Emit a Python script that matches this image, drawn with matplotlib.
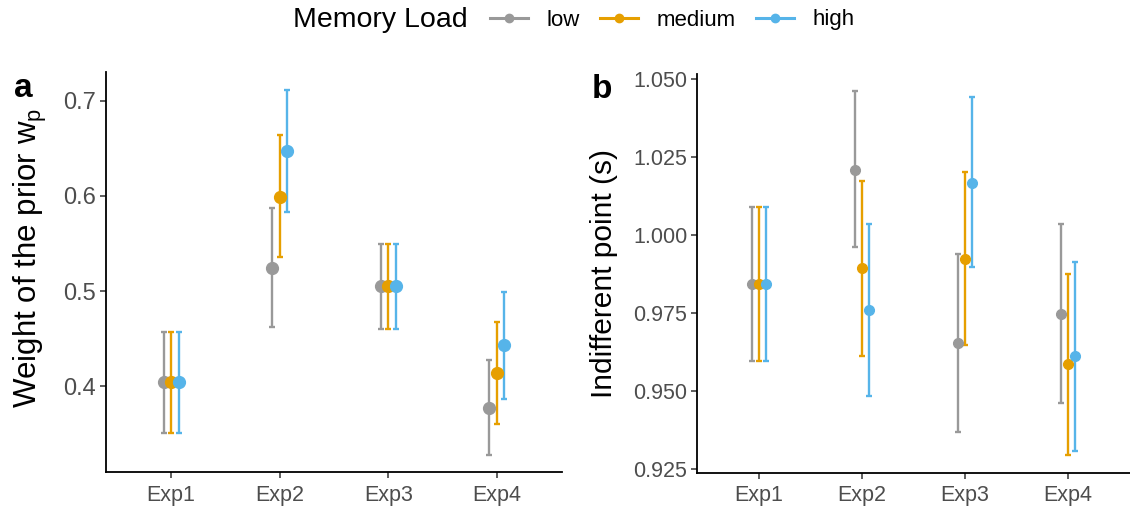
import matplotlib.pyplot as plt
from matplotlib.lines import Line2D
import numpy as np

plt.rcParams['font.family'] = ['Liberation Sans', 'DejaVu Sans']

experiments = ["Exp1", "Exp2", "Exp3", "Exp4"]
loads = ["low", "medium", "high"]
colors = {"low": "#999999", "medium": "#E69F00", "high": "#56B4E9"}

# panel a: weight of the prior (mean, lower, upper)
wp_mean = {"low": [0.404, 0.524, 0.505, 0.377],
           "medium": [0.404, 0.599, 0.505, 0.414],
           "high": [0.404, 0.647, 0.505, 0.443]}
wp_low = {"low": [0.351, 0.462, 0.460, 0.327],
          "medium": [0.351, 0.536, 0.460, 0.360],
          "high": [0.351, 0.583, 0.460, 0.386]}
wp_high = {"low": [0.457, 0.587, 0.549, 0.427],
           "medium": [0.457, 0.664, 0.549, 0.467],
           "high": [0.457, 0.712, 0.549, 0.499]}

# panel b: indifferent point (s)
ip_mean = {"low": [0.9843, 1.0209, 0.9653, 0.9748],
           "medium": [0.9843, 0.9893, 0.9922, 0.9587],
           "high": [0.9843, 0.9760, 1.0166, 0.9612]}
ip_low = {"low": [0.9595, 0.9960, 0.9370, 0.9462],
          "medium": [0.9595, 0.9614, 0.9648, 0.9297],
          "high": [0.9595, 0.9486, 0.9896, 0.9307]}
ip_high = {"low": [1.0090, 1.0460, 0.9940, 1.0036],
           "medium": [1.0090, 1.0172, 1.0200, 0.9876],
           "high": [1.0090, 1.0036, 1.0440, 0.9914]}

fig = plt.figure(figsize=(11.3, 5.09), dpi=100)
ax_a = fig.add_axes([106 / 1130, 37 / 509, 456 / 1130, 400 / 509])
ax_b = fig.add_axes([697 / 1130, 36.3 / 509, 433 / 1130, 398.7 / 509])

x = np.arange(len(experiments))
offsets = {"low": -0.07, "medium": 0.0, "high": 0.07}


def draw(ax, mean, lo, hi, ms):
    for ld in loads:
        m = np.array(mean[ld])
        err = [m - np.array(lo[ld]), np.array(hi[ld]) - m]
        ax.errorbar(x + offsets[ld], m, yerr=err, fmt='o', color=colors[ld],
                    ms=ms, elinewidth=1.7, capsize=2.2, capthick=1.7, zorder=3)
    ax.set_xlim(-0.6, 3.6)
    ax.set_xticks(x)
    ax.set_xticklabels(experiments)
    for s in ["top", "right"]:
        ax.spines[s].set_visible(False)
    for s in ["left", "bottom"]:
        ax.spines[s].set_linewidth(1.3)
    ax.tick_params(length=4, width=1.1, color="#333333", labelcolor="#4D4D4D",
                   labelsize=15.5, pad=3)
    ax.tick_params(axis="x", pad=5)


draw(ax_a, wp_mean, wp_low, wp_high, 8.5)
ax_a.set_ylim(0.3095, 0.7305)
ax_a.set_yticks([0.4, 0.5, 0.6, 0.7])
ax_a.set_yticklabels(["0.4", "0.5", "0.6", "0.7"])
ax_a.tick_params(axis="y", labelsize=17)
ax_a.set_ylabel(r"Weight of the prior w$_\mathregular{p}$", fontsize=22.5)
ax_a.yaxis.set_label_coords(-0.125, 0.535)

draw(ax_b, ip_mean, ip_low, ip_high, 7)
ax_b.set_ylim(0.9239, 1.0515)
ax_b.set_yticks([0.925, 0.950, 0.975, 1.000, 1.025, 1.050])
ax_b.set_yticklabels(["0.925", "0.950", "0.975", "1.000", "1.025", "1.050"])
ax_b.set_ylabel("Indifferent point (s)", fontsize=21.5)
ax_b.yaxis.set_label_coords(-0.182, 0.5)

fig.text(14 / 1130, 1 - 97 / 509, "a", fontsize=24, fontweight="bold", va="baseline")
fig.text(592 / 1130, 1 - 98 / 509, "b", fontsize=24, fontweight="bold", va="baseline")

# legend at the top, title on the left
fig.text(293 / 1130, 1 - 20 / 509, "Memory Load", fontsize=20.5, va="center", ha="left")
handles = [Line2D([0], [0], color=colors[ld], marker='o', ms=6, lw=2.2) for ld in loads]
fig.legend(handles, loads, loc="center left", bbox_to_anchor=(490 / 1130, 1 - 20 / 509),
           ncol=3, frameon=False, fontsize=16, handlelength=1.7, handletextpad=0.85,
           columnspacing=0.9, borderpad=0, borderaxespad=0)

fig.savefig("out.png", dpi=100)
